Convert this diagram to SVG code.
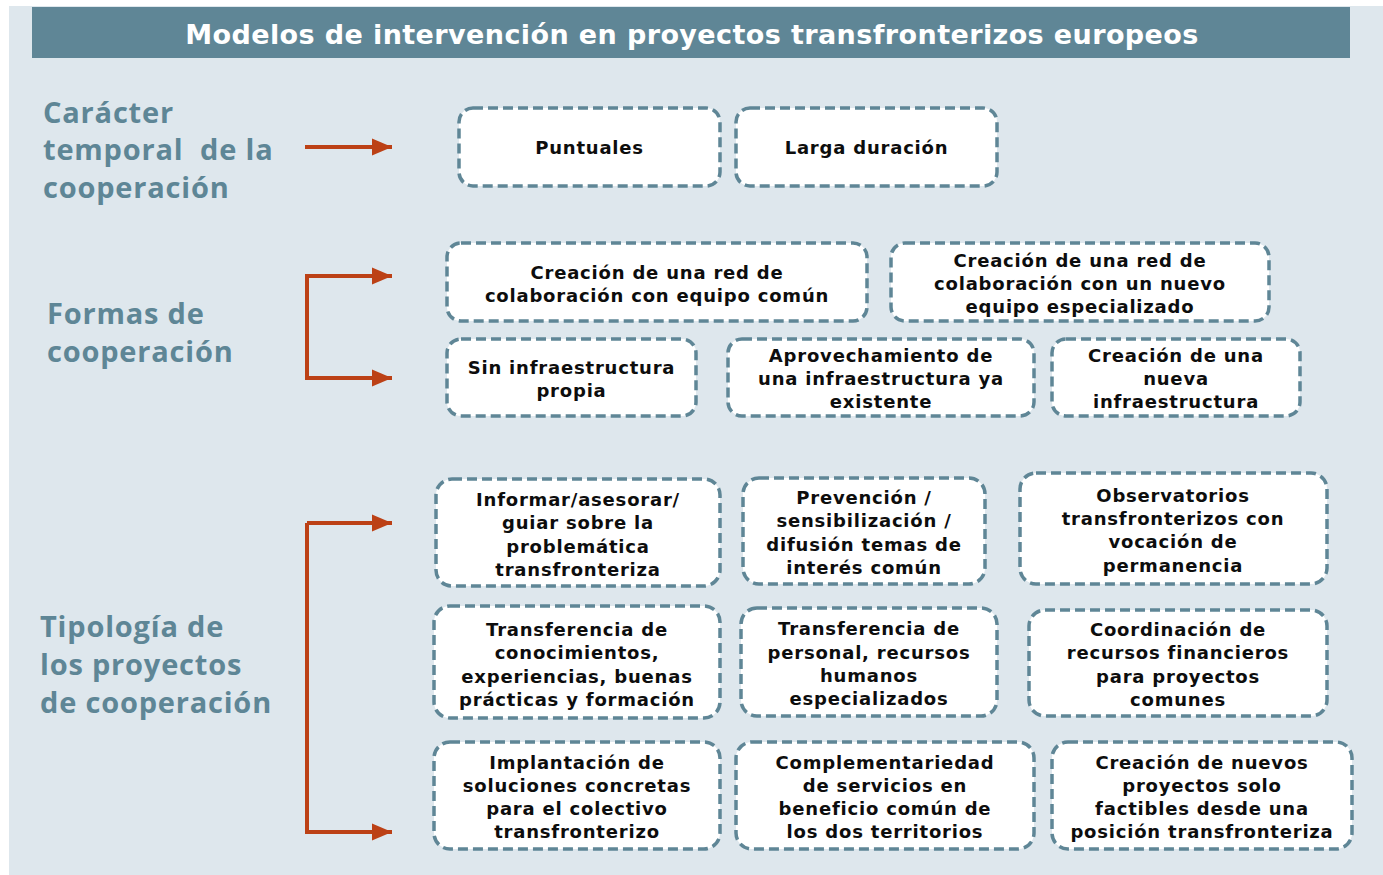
<svg xmlns="http://www.w3.org/2000/svg" width="1383" height="875" viewBox="0 0 1383 875">
<style>
.bg{fill:#dee7ed}
.bar{fill:#5f8696}
.title{font-family:"DejaVu Sans",sans-serif;font-weight:bold;font-size:27px;letter-spacing:0.4px;fill:#ffffff;text-anchor:middle}
.lbl{font-family:"Open Sans","Liberation Sans",sans-serif;font-weight:bold;font-size:29px;letter-spacing:0.8px;fill:#5e8696}
.box{fill:#ffffff;stroke:#5f8696;stroke-width:3.5;stroke-dasharray:10 5}
.t{font-family:"DejaVu Sans",sans-serif;font-weight:bold;font-size:18px;letter-spacing:0.8px;fill:#0d0d0d;text-anchor:middle}
.ar{fill:none;stroke:#bc4116;stroke-width:4}
</style>
<defs>
<marker id="ah" markerWidth="6" markerHeight="6" refX="5" refY="3" orient="auto" markerUnits="strokeWidth">
<path d="M0,0.9 L5,3 L0,5.1 Z" fill="#bc4116"/>
</marker>
</defs>
<rect width="1383" height="875" fill="#ffffff"/>
<rect class="bg" x="9" y="6" width="1374" height="869"/>
<rect class="bar" x="32" y="7" width="1318" height="51"/>
<text class="title" x="692" y="44">Modelos de intervención en proyectos transfronterizos europeos</text>

<g id="labels">
<text class="lbl" x="43" y="123">Carácter</text>
<text class="lbl" x="43" y="160" xml:space="preserve">temporal  de la</text>
<text class="lbl" x="43" y="198">cooperación</text>
<text class="lbl" x="47" y="324">Formas de</text>
<text class="lbl" x="47" y="362">cooperación</text>
<text class="lbl" x="40" y="637">Tipología de</text>
<text class="lbl" x="40" y="675">los proyectos</text>
<text class="lbl" x="40" y="713">de cooperación</text>
</g>

<g id="connectors">
<path class="ar" d="M305,147 H392" marker-end="url(#ah)"/>
<path class="ar" d="M380,276 H307 V378 H392" marker-end="url(#ah)"/>
<path class="ar" d="M307,276 H392" marker-end="url(#ah)"/>
<path class="ar" d="M307,523 V832 H392" marker-end="url(#ah)"/>
<path class="ar" d="M307,523 H392" marker-end="url(#ah)"/>
</g>

<g id="n1"><rect class="box" x="459" y="108" width="261" height="78" rx="14"/>
<text class="t" x="589.5" y="154">Puntuales</text></g>
<g id="n2"><rect class="box" x="736" y="108" width="261" height="78" rx="14"/>
<text class="t" x="866.5" y="154">Larga duración</text></g>

<g id="n3"><rect class="box" x="447" y="243" width="420" height="78" rx="14"/>
<text class="t" x="657" y="279">Creación de una red de</text>
<text class="t" x="657" y="302">colaboración con equipo común</text></g>
<g id="n4"><rect class="box" x="891" y="243" width="378" height="78" rx="14"/>
<text class="t" x="1080" y="267">Creación de una red de</text>
<text class="t" x="1080" y="290">colaboración con un nuevo</text>
<text class="t" x="1080" y="313">equipo especializado</text></g>

<g id="n5"><rect class="box" x="447" y="339" width="249" height="77" rx="14"/>
<text class="t" x="571.5" y="374">Sin infraestructura</text>
<text class="t" x="571.5" y="397">propia</text></g>
<g id="n6"><rect class="box" x="728" y="339" width="306" height="77" rx="14"/>
<text class="t" x="881" y="362">Aprovechamiento de</text>
<text class="t" x="881" y="385">una infraestructura ya</text>
<text class="t" x="881" y="408">existente</text></g>
<g id="n7"><rect class="box" x="1052" y="339" width="248" height="77" rx="14"/>
<text class="t" x="1176" y="362">Creación de una</text>
<text class="t" x="1176" y="385">nueva</text>
<text class="t" x="1176" y="408">infraestructura</text></g>

<g id="n8"><rect class="box" x="436" y="479" width="284" height="107" rx="16"/>
<text class="t" x="578" y="506">Informar/asesorar/</text>
<text class="t" x="578" y="529">guiar sobre la</text>
<text class="t" x="578" y="553">problemática</text>
<text class="t" x="578" y="576">transfronteriza</text></g>
<g id="n9"><rect class="box" x="743" y="478" width="242" height="106" rx="16"/>
<text class="t" x="864" y="504">Prevención /</text>
<text class="t" x="864" y="527">sensibilización /</text>
<text class="t" x="864" y="551">difusión temas de</text>
<text class="t" x="864" y="574">interés común</text></g>
<g id="n10"><rect class="box" x="1020" y="473" width="307" height="111" rx="16"/>
<text class="t" x="1173" y="502">Observatorios</text>
<text class="t" x="1173" y="525">transfronterizos con</text>
<text class="t" x="1173" y="548">vocación de</text>
<text class="t" x="1173" y="572">permanencia</text></g>

<g id="n11"><rect class="box" x="434" y="606" width="286" height="112" rx="16"/>
<text class="t" x="577" y="636">Transferencia de</text>
<text class="t" x="577" y="659">conocimientos,</text>
<text class="t" x="577" y="683">experiencias, buenas</text>
<text class="t" x="577" y="706">prácticas y formación</text></g>
<g id="n12"><rect class="box" x="741" y="608" width="256" height="108" rx="16"/>
<text class="t" x="869" y="635">Transferencia de</text>
<text class="t" x="869" y="659">personal, recursos</text>
<text class="t" x="869" y="682">humanos</text>
<text class="t" x="869" y="705">especializados</text></g>
<g id="n13"><rect class="box" x="1029" y="610" width="298" height="106" rx="16"/>
<text class="t" x="1178" y="636">Coordinación de</text>
<text class="t" x="1178" y="659">recursos financieros</text>
<text class="t" x="1178" y="683">para proyectos</text>
<text class="t" x="1178" y="706">comunes</text></g>

<g id="n14"><rect class="box" x="434" y="742" width="286" height="107" rx="16"/>
<text class="t" x="577" y="769">Implantación de</text>
<text class="t" x="577" y="792">soluciones concretas</text>
<text class="t" x="577" y="815">para el colectivo</text>
<text class="t" x="577" y="838">transfronterizo</text></g>
<g id="n15"><rect class="box" x="736" y="742" width="298" height="107" rx="16"/>
<text class="t" x="885" y="769">Complementariedad</text>
<text class="t" x="885" y="792">de servicios en</text>
<text class="t" x="885" y="815">beneficio común de</text>
<text class="t" x="885" y="838">los dos territorios</text></g>
<g id="n16"><rect class="box" x="1052" y="742" width="300" height="107" rx="16"/>
<text class="t" x="1202" y="769">Creación de nuevos</text>
<text class="t" x="1202" y="792">proyectos solo</text>
<text class="t" x="1202" y="815">factibles desde una</text>
<text class="t" x="1202" y="838">posición transfronteriza</text></g>
</svg>
